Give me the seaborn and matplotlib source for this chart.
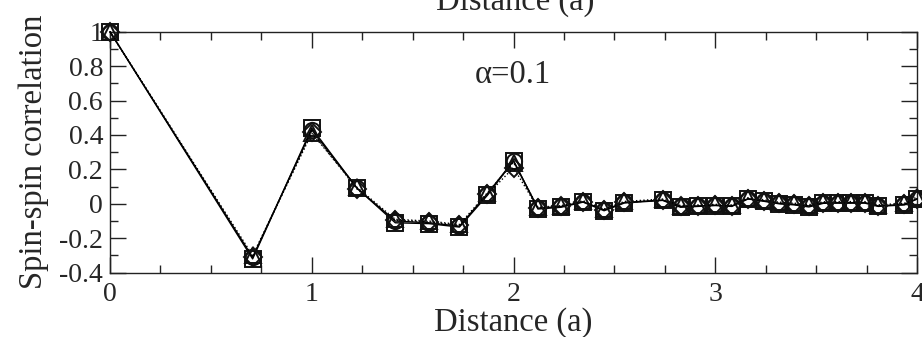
import numpy as np
import pandas as pd
import matplotlib
matplotlib.use("Agg")
import matplotlib.pyplot as plt
from matplotlib.ticker import MultipleLocator, FixedLocator, FixedFormatter
import seaborn as sns

# distances on the lattice
distance = [0.0, 0.707, 1.0, 1.225, 1.414, 1.581, 1.732, 1.871, 2.0, 2.121,
            2.236, 2.345, 2.449, 2.55, 2.739, 2.828, 2.915, 3.0, 3.082, 3.162,
            3.24, 3.317, 3.391, 3.464, 3.536, 3.606, 3.674, 3.742, 3.808, 3.937, 4.0]

corr_circle = [1.0, -0.31, 0.43, 0.09, -0.10, -0.11, -0.13, 0.06, 0.25, -0.025,
               -0.015, 0.012, -0.035, 0.008, 0.022, -0.015, -0.012, -0.008, -0.012, 0.030,
               0.018, 0.003, -0.003, -0.012, 0.006, 0.007, 0.007, 0.007, -0.012, -0.003, 0.030]
corr_square = [1.0, -0.32, 0.44, 0.09, -0.11, -0.115, -0.135, 0.05, 0.25, -0.03,
               -0.02, 0.010, -0.04, 0.005, 0.020, -0.020, -0.015, -0.010, -0.015, 0.028,
               0.015, 0.000, -0.006, -0.018, 0.003, 0.004, 0.004, 0.004, -0.015, -0.006, 0.028]
corr_triangle = [1.0, -0.30, 0.41, 0.095, -0.09, -0.10, -0.12, 0.065, 0.24, -0.02,
                 -0.01, 0.018, -0.03, 0.014, 0.028, -0.010, -0.006, -0.003, -0.006, 0.036,
                 0.024, 0.010, 0.004, -0.005, 0.012, 0.013, 0.013, 0.013, -0.006, 0.003, 0.040]
corr_diamond = [1.0, -0.31, 0.42, 0.085, -0.095, -0.105, -0.125, 0.055, 0.21, -0.025,
                -0.015, 0.012, -0.035, 0.008, 0.022, -0.015, -0.012, -0.008, -0.012, 0.030,
                0.018, 0.003, -0.003, -0.012, 0.006, 0.007, 0.007, 0.007, -0.012, -0.003, 0.030]

y_ticks = [-0.4, -0.2, 0.0, 0.2, 0.4, 0.6, 0.8, 1.0]
y_tick_labels = ["-0.4", "-0.2", "0", "0.2", "0.4", "0.6", "0.8", "1"]
x_ticks = [0, 1, 2, 3, 4]
x_tick_labels = ["0", "1", "2", "3", "4"]

sns.set_style("ticks")
plt.rcParams['font.family'] = ['Liberation Serif', 'DejaVu Serif']

fig = plt.figure(figsize=(9.22, 3.37), dpi=100)
ax = fig.add_axes([0.1193, 0.1908, 0.8753, 0.7152])

series = [
    (corr_circle, 'o', '-'),
    (corr_square, 's', '-'),
    (corr_triangle, '^', ':'),
    (corr_diamond, 'D', ':'),
]
for vals, mk, ls in series:
    df = pd.DataFrame({'d': distance, 'c': vals})
    sns.lineplot(data=df, x='d', y='c', ax=ax, sort=False, color='black',
                 linestyle=ls, linewidth=1.0, marker=mk, markersize=11 if mk != 'D' else 9,
                 markerfacecolor='none', markeredgecolor='#111111', markeredgewidth=1.4,
                 clip_on=False, zorder=3)

ax.set_xlim(0, 4)
ax.set_ylim(-0.4, 1.0)

ax.xaxis.set_major_locator(FixedLocator(x_ticks))
ax.xaxis.set_major_formatter(FixedFormatter(x_tick_labels))
ax.xaxis.set_minor_locator(MultipleLocator(0.25))
ax.yaxis.set_major_locator(FixedLocator(y_ticks))
ax.yaxis.set_major_formatter(FixedFormatter(y_tick_labels))
ax.yaxis.set_minor_locator(MultipleLocator(0.1))

ax.tick_params(which='both', direction='in', top=True, right=True, color='#222222',
               width=1.0, labelsize=20)
ax.tick_params(which='major', length=11.5)
ax.tick_params(which='minor', length=5.5)
ax.tick_params(axis='x', pad=7)
ax.tick_params(axis='y', pad=5)
for s in ax.spines.values():
    s.set_linewidth(1.0)
    s.set_color('#222222')

ax.set_xlabel('Distance (a)', fontsize=23.5, va='top')
ax.xaxis.set_label_coords(0.5, -0.145)
ax.set_ylabel('Spin-spin correlation', fontsize=23.5)
ax.yaxis.set_label_coords(-0.075, 0.5)

ax.text(1.81, 0.75, 'α=0.1', fontsize=23.5, va='center', ha='left')

# top axis label, cut off by the figure edge as in the original
fig.text(0.5585, 1 - 10 / 337, 'Distance (a)', fontsize=23.5, ha='center', va='baseline')

fig.savefig('out.png', dpi=100)
